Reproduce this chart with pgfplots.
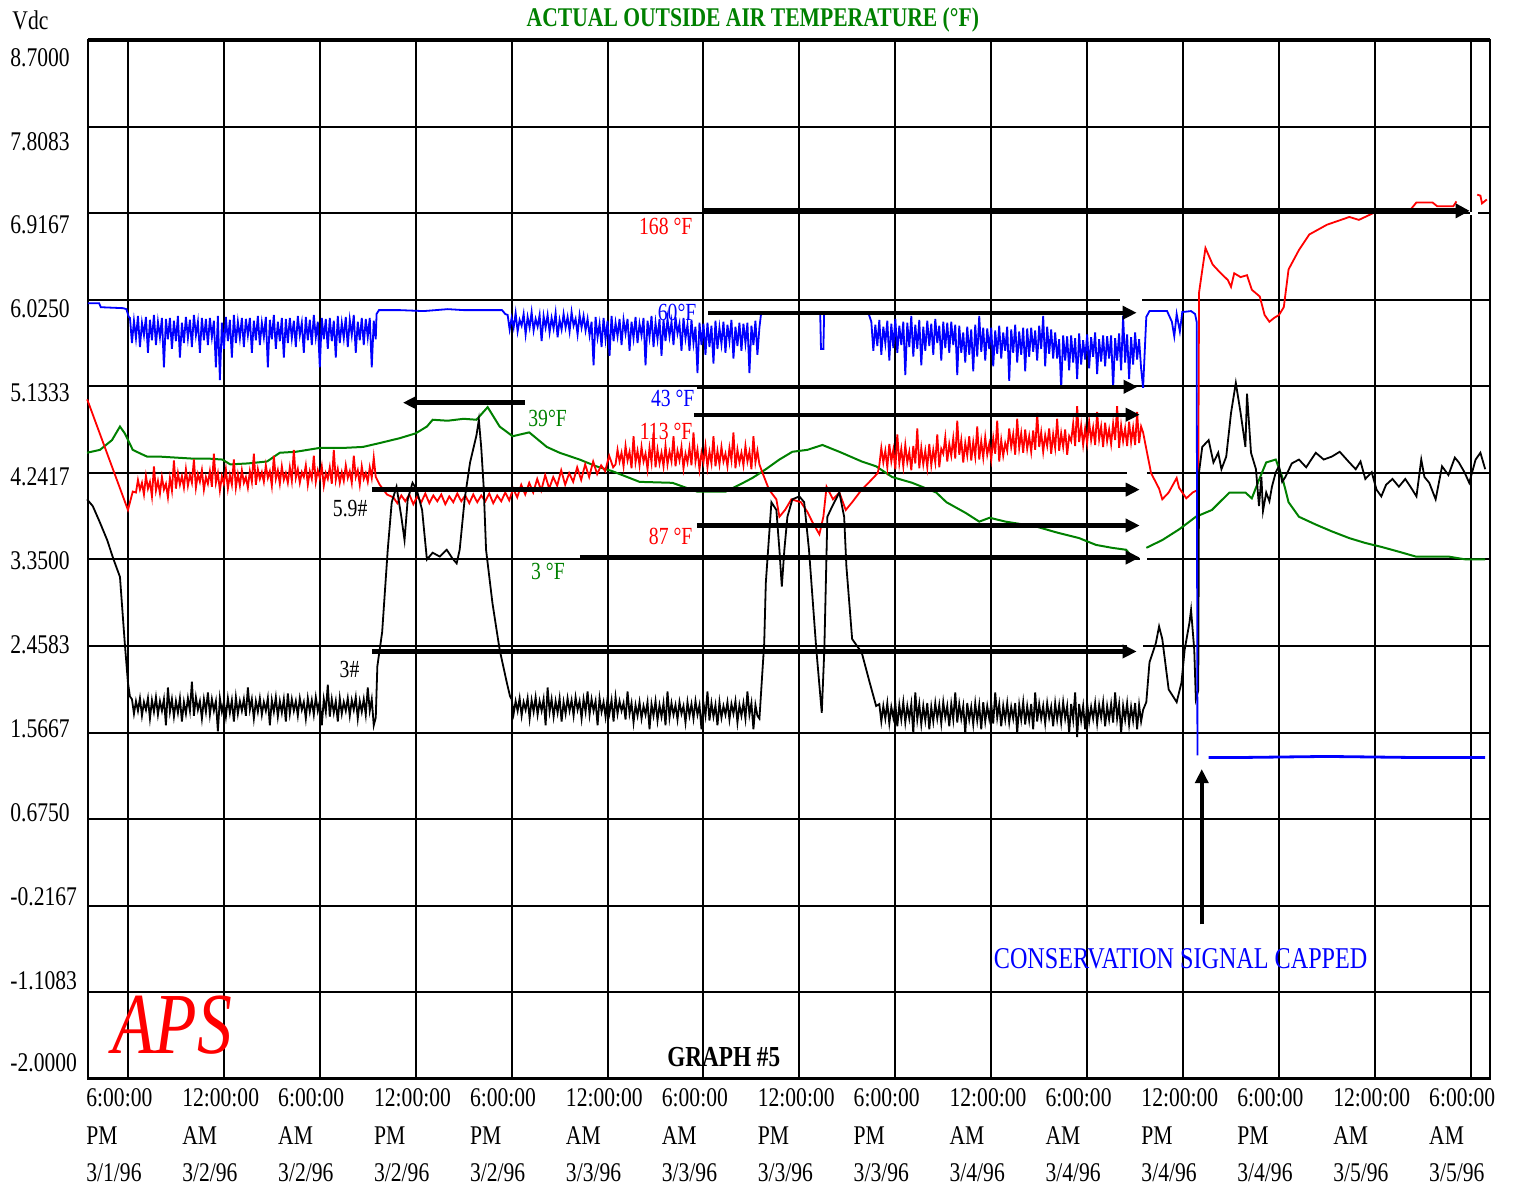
\documentclass[border=0pt]{standalone}
\usepackage{pgfplots}
\pgfplotsset{compat=1.18}
\usepackage{fontspec}
\setmainfont{Liberation Serif}[FakeStretch=0.8]
\usetikzlibrary{arrows.meta}
\definecolor{tgreen}{RGB}{0,128,0}
\definecolor{tblue}{RGB}{0,0,255}
\definecolor{tred}{RGB}{255,0,0}
\tikzset{arr/.style={line width=2.2pt,-{Triangle[length=7pt,width=6.5pt]}}}
\begin{document}
\begin{tikzpicture}
\begin{axis}[name=ax, scale only axis, width=701pt, height=519.1pt,
 xmin=-2.5, xmax=85.2, ymin=-2, ymax=8.7, clip=false, unbounded coords=jump,
 axis line style={line width=1.2pt}, major tick length=0pt,
 xtick={0,6,...,84}, xmajorgrids,
 xticklabels={{6:00:00\\PM\\3/1/96},{12:00:00\\AM\\3/2/96},{6:00:00\\AM\\3/2/96},{12:00:00\\PM\\3/2/96},{6:00:00\\PM\\3/2/96},{12:00:00\\AM\\3/3/96},{6:00:00\\AM\\3/3/96},{12:00:00\\PM\\3/3/96},{6:00:00\\PM\\3/3/96},{12:00:00\\AM\\3/4/96},{6:00:00\\AM\\3/4/96},{12:00:00\\PM\\3/4/96},{6:00:00\\PM\\3/4/96},{12:00:00\\AM\\3/5/96},{6:00:00\\AM\\3/5/96}},
 ytick={8.520,7.660,6.795,5.930,5.065,4.200,3.335,2.470,1.605,0.740,-0.125,-0.990,-1.835},
 yticklabels={8.7000,7.8083,6.9167,6.0250,5.1333,4.2417,3.3500,2.4583,1.5667,0.6750,-0.2167,-1.1083,-2.0000},
 extra y ticks={7.8083,6.9167,6.025,5.1333,4.2417,3.35,2.4583,1.5667,0.675,-0.2167,-1.1083},
 extra y tick labels={}, extra y tick style={grid=major},
 grid style={black, line width=1pt},
 yticklabel style={anchor=west, xshift=-39pt, inner sep=0pt, font=\fontsize{13.5}{16}\selectfont},
 xticklabel style={anchor=north west, align=left, xshift=-21pt, yshift=-5pt, inner sep=0pt, font=\fontsize{13.5}{18.75}\selectfont},
]
% gaps in grid lines
\draw[white, line width=1.8pt] (62.04,6.025)--(63.41,6.025);
\draw[white, line width=1.8pt] (62.48,4.2417)--(63.73,4.2417);
\draw[white, line width=1.8pt] (63.29,3.35)--(63.73,3.35);
\draw[white, line width=1.8pt] (62.48,2.4583)--(63.48,2.4583);
\draw[white, line width=1.8pt] (83.93,6.9167)--(84.43,6.9167);

% green: outside air temperature
\addplot[tgreen, line width=1pt] coordinates {
(-2.56,4.45)(-1.75,4.48)(-1.0,4.58)(-0.5,4.72)(-0.2,4.65)(0.3,4.48)(0.8,4.44)(1.2,4.41)(2,4.41)(3,4.40)(4,4.39)(5,4.39)(5.9,4.38)(6.4,4.33)(7.5,4.34)(8.7,4.36)(9.5,4.45)(10.5,4.46)(12,4.50)(13.5,4.50)(14.7,4.51)(15.75,4.55)(17,4.60)(18,4.65)(18.7,4.72)(19.06,4.79)(20,4.78)(21,4.80)(21.8,4.79)(22.5,4.92)(23.25,4.72)(24.06,4.62)(25.1,4.66)(26.2,4.51)(27,4.45)(28.25,4.38)(29.3,4.31)(30.3,4.26)(32,4.15)(34.06,4.14)(34.9,4.09)(35.6,4.05)(37.4,4.05)(38.25,4.12)(39.06,4.19)(39.9,4.28)(40.75,4.38)(41.56,4.46)(42.5,4.48)(43.44,4.53)(44.5,4.46)(45.9,4.36)(46.8,4.31)(47.8,4.20)(49.06,4.14)(50.56,4.04)(51.2,3.94)(52.4,3.83)(53.25,3.74)(53.9,3.78)(54.9,3.74)(56.8,3.69)(58.06,3.63)(59.5,3.57)(60.56,3.50)(61.56,3.47)(62.44,3.45)(62.8,3.38)(63.2,nan)
(63.7,3.47)(64.7,3.55)(65.75,3.66)(66.8,3.79)(67.8,3.86)(68.9,4.04)(69.9,4.04)(70.3,3.98)(70.75,4.17)(71.2,4.35)(71.8,4.38)(72.2,4.20)(72.6,3.94)(73.25,3.79)(74.3,3.71)(75.3,3.64)(76.4,3.57)(77.4,3.52)(78.4,3.48)(79.5,3.43)(80.56,3.38)(82.6,3.38)(83.7,3.35)(84.9,3.35)
};

% red
\addplot[tred, line width=0.9pt] coordinates {
(-2.55,5.00)(0.0,3.86)(0.3,4.05)
(0.5,4.04)(0.625,4.17)(0.75,4.07)(0.875,4.14)(1,4.02)(1.125,4.21)(1.25,4.08)(1.375,4.15)(1.5,4.00)(1.625,4.31)(1.75,4.06)(1.875,4.16)(2,4.03)(2.125,4.20)(2.25,4.07)(2.375,4.13)(2.5,3.99)(2.625,4.19)(2.75,4.06)(2.875,4.37)
(3,4.08)(3.125,4.24)(3.25,4.12)(3.375,4.21)(3.5,4.09)(3.625,4.28)(3.75,4.11)(3.875,4.22)(4,4.14)(4.125,4.38)(4.25,4.09)(4.375,4.23)(4.5,4.15)(4.625,4.27)(4.75,4.07)(4.875,4.20)(5,4.13)(5.125,4.26)(5.25,4.10)(5.375,4.44)(5.5,4.14)(5.625,4.24)(5.75,4.06)(5.875,4.21)(6,4.13)(6.125,4.28)(6.25,4.08)(6.375,4.22)(6.5,4.12)(6.625,4.38)(6.75,4.09)(6.875,4.23)(7,4.11)(7.125,4.27)(7.25,4.14)(7.375,4.20)(7.5,4.09)(7.625,4.26)(7.75,4.15)(7.875,4.44)
(8,4.12)(8.125,4.28)(8.25,4.18)(8.375,4.25)(8.5,4.15)(8.625,4.32)(8.75,4.19)(8.875,4.26)(9,4.11)(9.125,4.42)(9.25,4.18)(9.375,4.27)(9.5,4.13)(9.625,4.31)(9.75,4.17)(9.875,4.24)(10,4.14)(10.125,4.30)(10.25,4.16)(10.375,4.48)(10.5,4.19)(10.625,4.28)(10.75,4.14)(10.875,4.25)(11,4.20)(11.125,4.32)(11.25,4.12)(11.375,4.26)(11.5,4.18)(11.625,4.42)(11.75,4.15)(11.875,4.27)(12,4.19)(12.125,4.31)(12.25,4.11)(12.375,4.24)(12.5,4.18)(12.625,4.30)(12.75,4.13)(12.875,4.48)(13,4.17)(13.125,4.28)(13.25,4.14)(13.375,4.25)(13.5,4.16)(13.625,4.32)(13.75,4.19)(13.875,4.26)(14,4.14)(14.125,4.42)(14.25,4.20)(14.375,4.27)(14.5,4.12)(14.625,4.31)(14.75,4.18)(14.875,4.24)(15,4.15)(15.125,4.30)(15.25,4.19)(15.375,4.40)(15.5,4.20)
(15.75,4.12)(16.2,4.02)(16.6,3.99)(16.85,3.93)(17.1,4.01)(17.35,3.95)(17.6,4.02)(17.85,3.92)(18.1,4.00)(18.35,3.94)(18.6,4.03)(18.85,3.93)(19.1,4.01)(19.35,3.95)(19.6,4.02)(19.85,3.92)(20.1,4.00)(20.35,3.94)(20.6,4.03)(20.85,3.95)(21.1,4.01)(21.35,3.93)(21.6,4.02)(21.85,3.94)(22.1,4.01)(22.35,3.95)(22.6,4.03)(22.85,3.93)(23.1,4.01)(23.35,3.95)(23.6,4.04)(23.85,3.96)
(24.1,4.08)(24.35,3.99)(24.6,4.12)(24.85,4.02)(25.1,4.14)(25.35,4.04)(25.6,4.18)(25.85,4.06)(26.1,4.22)(26.35,4.08)(26.6,4.20)(26.85,4.11)(27.1,4.27)(27.35,4.12)(27.6,4.24)(27.85,4.15)(28.1,4.30)(28.35,4.17)(28.6,4.33)(28.85,4.20)(29.1,4.36)(29.35,4.23)(29.6,4.32)(29.85,4.26)(30.1,4.42)(30.35,4.30)
(30.5,4.33)(30.625,4.48)(30.75,4.36)(30.875,4.45)(31,4.31)(31.125,4.52)(31.25,4.37)(31.375,4.46)(31.5,4.29)(31.625,4.62)(31.75,4.35)(31.875,4.47)(32,4.32)(32.125,4.51)(32.25,4.36)(32.375,4.44)(32.5,4.28)(32.625,4.50)(32.75,4.35)(32.875,4.66)(33,4.30)(33.125,4.48)(33.25,4.34)(33.375,4.45)(33.5,4.31)(33.625,4.52)(33.75,4.33)(33.875,4.46)(34,4.36)(34.125,4.62)(34.25,4.31)(34.375,4.47)(34.5,4.37)(34.625,4.51)(34.75,4.29)(34.875,4.44)(35,4.35)(35.125,4.50)(35.25,4.32)(35.375,4.66)(35.5,4.36)(35.625,4.48)(35.75,4.28)(35.875,4.45)(36,4.35)(36.125,4.52)(36.25,4.30)(36.375,4.46)(36.5,4.34)(36.625,4.62)(36.75,4.31)(36.875,4.47)(37,4.33)(37.125,4.51)(37.25,4.36)(37.375,4.44)(37.5,4.31)(37.625,4.50)(37.75,4.37)(37.875,4.66)(38,4.29)(38.125,4.48)(38.25,4.35)(38.375,4.45)(38.5,4.32)(38.625,4.52)(38.75,4.36)(38.875,4.46)(39,4.28)(39.125,4.62)(39.25,4.35)(39.375,4.47)(39.5,4.33)(39.7,4.24)
(40.1,4.07)(40.56,3.97)(40.75,3.79)(41.1,3.86)(41.5,3.97)(42.1,3.94)(42.5,3.84)(42.8,3.74)(43.25,3.61)(43.5,3.79)(43.7,4.10)(44.1,3.97)(44.5,4.04)(44.9,3.86)(45.3,3.94)(45.9,4.07)(46.5,4.17)(46.9,4.24)
(47,4.32)(47.125,4.50)(47.25,4.35)(47.375,4.47)(47.5,4.30)(47.625,4.54)(47.75,4.36)(47.875,4.48)(48,4.28)(48.125,4.64)(48.25,4.34)(48.375,4.49)(48.5,4.31)(48.625,4.53)(48.75,4.35)(48.875,4.46)(49,4.27)(49.125,4.52)(49.25,4.34)(49.375,4.70)(49.5,4.29)(49.625,4.50)(49.75,4.33)(49.875,4.47)(50,4.30)(50.125,4.54)(50.25,4.32)(50.375,4.48)(50.5,4.35)(50.625,4.64)(50.75,4.30)(50.875,4.49)
(51,4.44)(51.125,4.61)(51.25,4.36)(51.375,4.54)(51.5,4.42)(51.625,4.60)(51.75,4.39)(51.875,4.78)(52,4.43)(52.125,4.58)(52.25,4.35)(52.375,4.55)(52.5,4.42)(52.625,4.62)(52.75,4.37)(52.875,4.56)(53,4.41)(53.125,4.72)(53.25,4.38)(53.375,4.57)(53.5,4.40)(53.625,4.61)(53.75,4.43)(53.875,4.54)(54,4.38)(54.125,4.60)(54.25,4.44)(54.375,4.78)(54.5,4.36)(54.625,4.58)(54.75,4.42)(54.875,4.55)
(55,4.47)(55.125,4.70)(55.25,4.51)(55.375,4.64)(55.5,4.43)(55.625,4.80)(55.75,4.50)(55.875,4.65)(56,4.45)(56.125,4.69)(56.25,4.49)(56.375,4.62)(56.5,4.46)(56.625,4.68)(56.75,4.48)(56.875,4.86)(57,4.51)(57.125,4.66)(57.25,4.46)(57.375,4.63)(57.5,4.52)(57.625,4.70)(57.75,4.44)(57.875,4.64)(58,4.50)(58.125,4.80)(58.25,4.47)(58.375,4.65)(58.5,4.51)(58.625,4.69)(58.75,4.43)(58.875,4.62)
(59,4.57)(59.125,4.75)(59.25,4.52)(59.375,4.93)(59.5,4.56)(59.625,4.73)(59.75,4.53)(59.875,4.70)(60,4.55)(60.125,4.77)(60.25,4.58)(60.375,4.71)(60.5,4.53)(60.625,4.87)(60.75,4.59)(60.875,4.72)(61,4.51)(61.125,4.76)(61.25,4.57)(61.375,4.69)(61.5,4.54)(61.625,4.75)(61.75,4.58)(61.875,4.93)(62,4.50)(62.125,4.73)(62.25,4.57)(62.375,4.70)(62.5,4.52)(62.625,4.77)(62.75,4.56)(62.875,4.71)(63,4.53)(63.125,4.87)(63.25,4.55)(63.375,4.72)(63.5,4.66)
(63.7,4.49)(64.0,4.24)(64.5,4.08)(64.7,3.97)(65.1,4.04)(65.6,4.19)(65.75,4.09)(66.2,3.98)(66.6,4.04)(66.95,4.07)(67.0,6.10)(67.4,6.56)(67.85,6.39)(68.3,6.31)(68.8,6.23)(69.0,6.16)(69.2,6.30)(69.6,6.26)(70.0,6.28)(70.3,6.13)(70.8,6.06)(71.1,5.87)(71.4,5.80)(71.7,5.84)(72.0,5.87)(72.3,5.95)(72.6,6.34)(73.25,6.54)(73.9,6.70)(75.0,6.80)(76.4,6.88)(77.0,6.85)(77.9,6.92)(79.6,6.92)(80.2,6.95)(80.6,7.03)(81.6,7.03)(81.9,6.99)(82.9,6.99)(83.1,7.04)(83.8,nan)(84.4,7.11)(84.6,7.10)(84.7,7.02)(85.0,7.06)
};

% black
\addplot[black, line width=0.9pt] coordinates {
(-2.56,3.97)(-2.2,3.90)(-1.75,3.73)(-1.3,3.55)(-0.9,3.35)(-0.5,3.17)(-0.2,2.49)(0.0,2.08)(0.12,1.94)
(0.25,1.91)(0.375,1.76)(0.5,1.89)(0.625,1.79)(0.75,1.92)(0.875,1.74)(1,1.88)(1.125,1.80)(1.25,1.92)(1.375,1.71)(1.5,1.90)(1.625,1.78)(1.75,1.93)(1.875,1.75)(2,1.89)(2.125,1.79)(2.25,1.91)(2.375,1.64)(2.5,2.03)(2.625,1.78)(2.75,1.91)(2.875,1.73)(3,1.89)(3.125,1.77)(3.25,1.92)(3.375,1.68)(3.5,1.88)(3.625,1.76)(3.75,1.92)(3.875,1.79)(4,2.09)(4.125,1.74)(4.25,1.93)(4.375,1.80)(4.5,1.89)(4.625,1.71)(4.75,1.91)(4.875,1.78)(5,1.98)(5.125,1.75)(5.25,1.91)(5.375,1.79)(5.5,1.89)(5.625,1.58)(5.75,1.92)(5.875,1.78)(6,1.88)(6.125,1.73)(6.25,1.92)(6.375,1.77)(6.5,1.90)(6.625,1.68)(6.75,1.93)(6.875,1.76)(7,1.89)(7.125,1.79)(7.25,1.91)(7.375,1.74)(7.5,2.03)(7.625,1.80)(7.75,1.91)(7.875,1.71)
(8,1.89)(8.125,1.78)(8.25,1.92)(8.375,1.75)(8.5,1.88)(8.625,1.79)(8.75,1.92)(8.875,1.64)(9,1.90)(9.125,1.78)(9.25,1.93)(9.375,1.73)(9.5,1.89)(9.625,1.77)(9.75,1.91)(9.875,1.68)(10,1.97)(10.125,1.76)(10.25,1.91)(10.375,1.79)(10.5,1.89)(10.625,1.74)(10.75,1.92)(10.875,1.80)(11,1.88)(11.125,1.71)(11.25,1.92)(11.375,1.78)(11.5,1.90)(11.625,1.75)(11.75,1.93)(11.875,1.79)(12,1.89)(12.125,1.64)(12.25,1.91)(12.375,1.78)(12.5,2.06)(12.625,1.73)(12.75,1.91)(12.875,1.77)(13,1.89)(13.125,1.68)(13.25,1.92)(13.375,1.76)(13.5,1.88)(13.625,1.79)(13.75,1.92)(13.875,1.74)(14,1.90)(14.125,1.80)(14.25,1.93)(14.375,1.71)(14.5,1.89)(14.625,1.78)(14.75,1.91)(14.875,1.75)(15,2.03)(15.125,1.79)(15.25,1.91)(15.375,1.64)(15.5,1.72)
(15.6,2.25)(15.9,2.60)(16.25,3.45)(16.5,3.94)(16.8,4.10)(17.1,3.79)(17.3,3.55)(17.5,3.97)(17.8,4.14)(18.06,4.07)(18.4,3.86)(18.7,3.35)(19.06,3.42)(19.5,3.38)(19.94,3.45)(20.3,3.36)(20.56,3.31)(20.75,3.45)(21.06,3.97)(21.4,4.35)(21.8,4.63)(21.95,4.79)(22.1,4.50)(22.25,4.10)(22.4,3.45)(22.8,2.90)(23.25,2.42)(23.7,2.08)(23.9,1.94)
(24,1.91)(24.125,1.76)(24.25,1.89)(24.375,1.79)(24.5,1.92)(24.625,1.74)(24.75,1.88)(24.875,1.80)(25,1.92)(25.125,1.71)(25.25,1.90)(25.375,1.78)(25.5,1.93)(25.625,1.75)(25.75,1.89)(25.875,1.79)(26,1.91)(26.125,1.64)(26.25,2.03)(26.375,1.78)(26.5,1.91)(26.625,1.73)(26.75,1.89)(26.875,1.77)(27,1.92)(27.125,1.68)(27.25,1.88)(27.375,1.76)(27.5,1.92)(27.625,1.79)(27.75,1.90)(27.875,1.74)(28,1.93)(28.125,1.80)(28.25,1.89)(28.375,1.71)(28.5,1.91)(28.625,1.78)(28.75,1.99)(28.875,1.75)(29,1.91)(29.125,1.79)(29.25,1.89)(29.375,1.64)(29.5,1.92)(29.625,1.78)(29.75,1.88)(29.875,1.73)(30,1.92)(30.125,1.77)(30.25,1.90)(30.375,1.68)(30.5,1.93)(30.625,1.76)(30.75,1.89)(30.875,1.79)
(31,1.87)(31.125,1.70)(31.25,1.99)(31.375,1.76)(31.5,1.87)(31.625,1.67)(31.75,1.85)(31.875,1.74)(32,1.88)(32.125,1.71)(32.25,1.84)(32.375,1.75)(32.5,1.88)(32.625,1.60)(32.75,1.86)(32.875,1.74)(33,1.89)(33.125,1.69)(33.25,1.85)(33.375,1.73)(33.5,1.87)(33.625,1.64)(33.75,1.99)(33.875,1.72)(34,1.87)(34.125,1.75)(34.25,1.85)(34.375,1.70)(34.5,1.88)(34.625,1.76)(34.75,1.84)(34.875,1.67)(35,1.88)(35.125,1.74)(35.25,1.86)(35.375,1.71)(35.5,1.89)(35.625,1.75)(35.75,1.85)(35.875,1.60)(36,1.87)(36.125,1.74)(36.25,1.99)(36.375,1.69)(36.5,1.87)(36.625,1.73)(36.75,1.85)(36.875,1.64)(37,1.88)(37.125,1.72)(37.25,1.84)(37.375,1.75)(37.5,1.88)(37.625,1.70)(37.75,1.86)(37.875,1.76)(38,1.89)(38.125,1.67)(38.25,1.85)(38.375,1.74)(38.5,1.87)(38.625,1.71)(38.75,1.99)(38.875,1.75)(39,1.87)(39.125,1.60)(39.25,1.85)(39.375,1.74)(39.5,1.71)
(39.8,2.49)(39.9,3.11)(40.25,3.94)(40.56,3.86)(40.75,3.45)(40.9,3.07)(41.06,3.45)(41.25,3.79)(41.56,3.97)(42.0,4.00)(42.3,3.94)(42.6,3.45)(43.06,2.42)(43.4,1.77)(43.56,2.42)(43.75,3.79)(44.06,3.90)(44.5,4.04)(44.8,3.79)(44.94,3.28)(45.3,2.53)(45.9,2.39)(46.4,2.08)(46.8,1.84)
(47,1.86)(47.125,1.68)(47.25,1.84)(47.375,1.71)(47.5,1.87)(47.625,1.66)(47.75,1.83)(47.875,1.72)(48,1.87)(48.125,1.63)(48.25,1.85)(48.375,1.70)(48.5,1.88)(48.625,1.67)(48.75,1.84)(48.875,1.71)(49,1.86)(49.125,1.56)(49.25,1.98)(49.375,1.70)(49.5,1.86)(49.625,1.65)(49.75,1.84)(49.875,1.69)(50,1.87)(50.125,1.60)(50.25,1.83)(50.375,1.68)(50.5,1.87)(50.625,1.71)(50.75,1.85)(50.875,1.66)(51,1.88)(51.125,1.72)(51.25,1.84)(51.375,1.63)(51.5,1.86)(51.625,1.70)(51.75,1.98)(51.875,1.67)(52,1.86)(52.125,1.71)(52.25,1.84)(52.375,1.56)(52.5,1.87)(52.625,1.70)(52.75,1.83)(52.875,1.65)(53,1.87)(53.125,1.69)(53.25,1.85)(53.375,1.60)(53.5,1.88)(53.625,1.68)(53.75,1.84)(53.875,1.71)(54,1.86)(54.125,1.66)(54.25,1.98)(54.375,1.72)(54.5,1.86)(54.625,1.63)(54.75,1.84)(54.875,1.70)
(55,1.87)(55.125,1.67)(55.25,1.83)(55.375,1.71)(55.5,1.87)(55.625,1.56)(55.75,1.85)(55.875,1.70)(56,1.88)(56.125,1.65)(56.25,1.84)(56.375,1.69)(56.5,1.86)(56.625,1.60)(56.75,1.98)(56.875,1.68)(57,1.86)(57.125,1.71)(57.25,1.84)(57.375,1.66)(57.5,1.87)(57.625,1.72)(57.75,1.83)(57.875,1.63)(58,1.87)(58.125,1.70)(58.25,1.85)(58.375,1.67)(58.5,1.88)(58.625,1.71)(58.75,1.84)(58.875,1.56)(59,1.86)(59.125,1.70)(59.25,1.98)(59.375,1.52)(59.5,1.86)(59.625,1.69)(59.75,1.84)(59.875,1.60)(60,1.87)(60.125,1.68)(60.25,1.83)(60.375,1.71)(60.5,1.87)(60.625,1.66)(60.75,1.85)(60.875,1.72)(61,1.88)(61.125,1.63)(61.25,1.84)(61.375,1.70)(61.5,1.86)(61.625,1.67)(61.75,1.98)(61.875,1.71)(62,1.86)(62.125,1.56)(62.25,1.84)(62.375,1.70)(62.5,1.87)(62.625,1.65)(62.75,1.83)(62.875,1.69)(63,1.87)(63.125,1.60)(63.25,1.85)(63.375,1.68)(63.5,1.80)
(63.7,1.88)(63.9,2.29)(64.3,2.49)(64.5,2.66)(64.7,2.53)(65.1,2.01)(65.6,1.88)(65.9,2.08)(66.1,2.42)(66.4,2.70)(66.5,2.83)(66.7,2.42)(66.8,1.91)(66.95,2.00)(67.0,4.25)(67.2,4.51)(67.6,4.58)(67.9,4.35)(68.2,4.45)(68.4,4.28)(68.7,4.41)(69.0,4.86)(69.3,5.17)(69.6,4.86)(69.9,4.51)(70.0,5.06)(70.25,4.45)(70.56,4.28)(70.75,3.90)(70.9,4.20)(71.0,3.85)(71.2,4.04)(71.4,3.95)(71.56,4.10)(71.8,4.25)(72.0,4.31)(72.2,4.15)(72.4,4.20)(72.8,4.34)(73.25,4.38)(73.7,4.30)(74.3,4.45)(74.8,4.38)(75.3,4.41)(75.8,4.46)(76.4,4.35)(76.8,4.28)(77.1,4.36)(77.4,4.18)(77.8,4.25)(78.1,4.07)(78.4,4.00)(78.7,4.12)(79.1,4.18)(79.5,4.10)(79.9,4.18)(80.3,4.08)(80.6,4.00)(80.9,4.38)(81.1,4.20)(81.4,4.14)(81.8,3.97)(82.2,4.31)(82.6,4.22)(83.0,4.40)(83.25,4.35)(83.6,4.25)(83.9,4.14)(84.3,4.38)(84.6,4.45)(84.9,4.28)
};

% blue
\addplot[tblue, line width=0.9pt] coordinates {
(-2.5,5.99)(-1.8,5.99)(-1.7,5.95)(-0.3,5.94)(-0.1,5.93)(0.05,5.85)
(0.125,5.84)(0.25,5.58)(0.375,5.81)(0.5,5.63)(0.625,5.86)(0.75,5.54)(0.875,5.79)(1,5.66)(1.125,5.85)(1.25,5.48)(1.375,5.82)(1.5,5.61)(1.625,5.87)(1.75,5.56)(1.875,5.80)(2,5.64)(2.125,5.84)(2.25,5.33)(2.375,5.83)(2.5,5.62)(2.625,5.84)(2.75,5.52)(2.875,5.81)(3,5.60)(3.125,5.86)(3.25,5.43)(3.375,5.79)(3.5,5.58)(3.625,5.85)(3.75,5.63)(3.875,5.82)(4,5.54)(4.125,5.87)(4.25,5.66)(4.375,5.80)(4.5,5.48)(4.625,5.84)(4.75,5.61)(4.875,5.83)(5,5.56)(5.125,5.84)(5.25,5.64)(5.375,5.81)(5.5,5.33)(5.625,5.86)(5.75,5.20)(5.875,5.79)(6,5.52)(6.125,5.85)(6.25,5.60)(6.375,5.82)(6.5,5.43)(6.625,5.87)(6.75,5.58)(6.875,5.80)(7,5.63)(7.125,5.84)(7.25,5.54)(7.375,5.83)(7.5,5.66)(7.625,5.84)(7.75,5.48)(7.875,5.81)
(8,5.61)(8.125,5.86)(8.25,5.56)(8.375,5.79)(8.5,5.64)(8.625,5.85)(8.75,5.33)(8.875,5.82)(9,5.62)(9.125,5.87)(9.25,5.52)(9.375,5.80)(9.5,5.60)(9.625,5.84)(9.75,5.43)(9.875,5.83)(10,5.58)(10.125,5.84)(10.25,5.63)(10.375,5.81)(10.5,5.54)(10.625,5.86)(10.75,5.66)(10.875,5.79)(11,5.48)(11.125,5.85)(11.25,5.61)(11.375,5.82)(11.5,5.56)(11.625,5.87)(11.75,5.64)(11.875,5.80)(12,5.33)(12.125,5.84)(12.25,5.62)(12.375,5.83)(12.5,5.52)(12.625,5.84)(12.75,5.60)(12.875,5.81)(13,5.43)(13.125,5.86)(13.25,5.58)(13.375,5.79)(13.5,5.63)(13.625,5.85)(13.75,5.54)(13.875,5.82)(14,5.66)(14.125,5.87)(14.25,5.48)(14.375,5.80)(14.5,5.61)(14.625,5.84)(14.75,5.56)(14.875,5.83)(15,5.64)(15.125,5.84)(15.25,5.33)(15.375,5.81)(15.5,5.62)
(15.55,5.88)(15.7,5.92)(17,5.92)(18.5,5.91)(20,5.93)(21,5.92)(22.5,5.92)(23.4,5.92)(23.6,5.88)
(23.75,5.87)(23.875,5.72)(24,5.84)(24.125,5.74)(24.25,5.89)(24.375,5.70)(24.5,5.82)(24.625,5.76)(24.75,5.88)(24.875,5.67)(25,5.85)(25.125,5.74)(25.25,5.90)(25.375,5.71)(25.5,5.83)(25.625,5.75)(25.75,5.87)(25.875,5.60)(26,5.86)(26.125,5.74)(26.25,5.87)(26.375,5.69)(26.5,5.84)(26.625,5.73)(26.75,5.89)(26.875,5.64)(27,5.82)(27.125,5.72)(27.25,5.88)(27.375,5.74)(27.5,5.85)(27.625,5.70)(27.75,5.90)(27.875,5.76)(28,5.83)(28.125,5.67)(28.25,5.87)(28.375,5.74)(28.5,5.86)(28.625,5.71)
(28.75,5.83)(28.875,5.66)(29,5.80)(29.125,5.35)(29.25,5.85)(29.375,5.64)(29.5,5.78)(29.625,5.54)(29.75,5.84)(29.875,5.62)(30,5.81)(30.125,5.45)(30.25,5.86)(30.375,5.60)(30.5,5.79)(30.625,5.65)(30.75,5.83)(30.875,5.56)(31,5.82)(31.125,5.68)(31.25,5.83)(31.375,5.50)(31.5,5.80)(31.625,5.63)(31.75,5.85)(31.875,5.58)(32,5.78)(32.125,5.66)(32.25,5.84)(32.375,5.35)(32.5,5.81)(32.625,5.64)(32.75,5.86)(32.875,5.54)(33,5.79)(33.125,5.62)(33.25,5.83)(33.375,5.45)(33.5,5.82)(33.625,5.60)(33.75,5.83)(33.875,5.65)(34,5.80)(34.125,5.56)(34.25,5.85)(34.375,5.68)(34.5,5.78)(34.625,5.50)(34.75,5.84)(34.875,5.63)
(35,5.77)(35.125,5.50)(35.25,5.82)(35.375,5.58)(35.5,5.75)(35.625,5.27)(35.75,5.79)(35.875,5.56)(36,5.78)(36.125,5.46)(36.25,5.79)(36.375,5.54)(36.5,5.76)(36.625,5.37)(36.75,5.81)(36.875,5.52)(37,5.74)(37.125,5.57)(37.25,5.80)(37.375,5.48)(37.5,5.77)(37.625,5.60)(37.75,5.82)(37.875,5.42)(38,5.75)(38.125,5.55)(38.25,5.79)(38.375,5.50)(38.5,5.78)(38.625,5.58)(38.75,5.79)(38.875,5.27)(39,5.76)(39.125,5.56)(39.25,5.81)(39.375,5.46)(39.5,5.74)(39.6,5.88)
(40,5.90)(41.5,5.90)(43.3,5.90)(43.35,5.52)(43.5,5.52)(43.55,5.90)(45,5.90)(46.3,5.90)
(46.5,5.80)(46.625,5.50)(46.75,5.77)(46.875,5.55)(47,5.82)(47.125,5.46)(47.25,5.75)(47.375,5.58)(47.5,5.81)(47.625,5.40)(47.75,5.78)(47.875,5.53)(48,5.83)(48.125,5.48)(48.25,5.76)(48.375,5.56)(48.5,5.80)(48.625,5.25)(48.75,5.79)(48.875,5.54)(49,5.86)(49.125,5.44)(49.25,5.77)(49.375,5.52)(49.5,5.82)(49.625,5.35)(49.75,5.75)(49.875,5.50)(50,5.81)(50.125,5.55)(50.25,5.78)(50.375,5.46)(50.5,5.83)(50.625,5.58)(50.75,5.76)(50.875,5.40)(51,5.80)(51.125,5.53)(51.25,5.79)(51.375,5.48)(51.5,5.80)(51.625,5.56)(51.75,5.77)(51.875,5.25)
(52,5.76)(52.125,5.48)(52.25,5.69)(52.375,5.38)(52.5,5.75)(52.625,5.46)(52.75,5.72)(52.875,5.29)(53,5.77)(53.125,5.44)(53.25,5.86)(53.375,5.49)(53.5,5.74)(53.625,5.40)(53.75,5.73)(53.875,5.52)(54,5.74)(54.125,5.34)(54.25,5.71)(54.375,5.47)(54.5,5.76)(54.625,5.42)(54.75,5.69)(54.875,5.50)(55,5.75)(55.125,5.19)(55.25,5.72)(55.375,5.48)(55.5,5.77)(55.625,5.38)(55.75,5.70)(55.875,5.46)(56,5.74)(56.125,5.29)(56.25,5.73)(56.375,5.44)(56.5,5.74)(56.625,5.49)(56.75,5.71)(56.875,5.40)(57,5.76)(57.125,5.52)(57.25,5.86)(57.375,5.34)(57.5,5.75)(57.625,5.47)(57.75,5.72)(57.875,5.42)
(58,5.69)(58.125,5.42)(58.25,5.62)(58.375,5.11)(58.5,5.66)(58.625,5.40)(58.75,5.65)(58.875,5.30)(59,5.66)(59.125,5.38)(59.25,5.63)(59.375,5.21)(59.5,5.68)(59.625,5.36)(59.75,5.61)(59.875,5.41)(60,5.67)(60.125,5.32)(60.25,5.64)(60.375,5.44)(60.5,5.69)(60.625,5.26)(60.75,5.62)(60.875,5.39)(61,5.66)(61.125,5.34)(61.25,5.65)(61.375,5.42)(61.5,5.66)(61.625,5.11)(61.75,5.63)(61.875,5.40)(62,5.68)(62.125,5.30)(62.25,5.86)(62.375,5.38)(62.5,5.67)(62.625,5.21)(62.75,5.64)(62.875,5.36)(63,5.69)(63.125,5.41)(63.25,5.62)(63.375,5.32)(63.5,5.12)
(63.7,5.85)(63.9,5.91)(65,5.91)(65.3,5.80)(65.45,5.65)(65.6,5.88)(65.8,5.70)(65.95,5.90)(66.5,5.91)(66.75,5.88)(66.85,5.80)(66.9,1.33)
};
\addplot[tblue, line width=1.4pt] coordinates {(67.6,1.31)(70,1.31)(75,1.32)(80,1.31)(84.9,1.31)};

% arrows
\draw[line width=3pt,-{Triangle[length=7pt,width=7pt]}] (35.96,6.943)--(83.93,6.943);
\draw[arr] (36.27,5.893)--(63.10,5.893);
\draw[arr] (35.58,5.130)--(63.16,5.130);
\draw[arr] (35.40,4.842)--(63.29,4.842);
\draw[arr] (15.26,4.070)--(63.29,4.070);
\draw[arr] (35.58,3.700)--(63.29,3.700);
\draw[arr] (28.27,3.370)--(63.29,3.370);
\draw[arr] (15.26,2.402)--(63.10,2.402);
\draw[arr] (24.83,4.966)--(17.20,4.966);
\draw[arr] (67.17,-0.41)--(67.17,1.19);

% thick top border
\draw[line width=2pt] (-2.5,8.7)--(85.2,8.7);

% annotations
\begin{scope}[every node/.style={font=\fontsize{12.3}{14}\selectfont, inner sep=0pt}]
\node[anchor=east, text=tred] at (35.33,6.78) {168 °F};
\node[anchor=east, text=tblue] at (35.58,5.90) {60°F};
\node[anchor=east, text=tblue] at (35.46,5.01) {43 °F};
\node[anchor=east, text=tred] at (35.33,4.67) {113 °F};
\node[anchor=west, text=tgreen] at (25.02,4.80) {39°F};
\node[anchor=east, text=tred] at (35.33,3.59) {87 °F};
\node[anchor=west, text=tgreen] at (25.2,3.23) {3 °F};
\node[anchor=east] at (15.0,3.88) {5.9\#};
\node[anchor=east] at (14.5,2.22) {3\#};
\end{scope}
\node[anchor=west, inner sep=0pt, font=\fontsize{13.5}{16}\selectfont] at (-7.25,8.91) {Vdc};
\node[inner sep=0pt, text=tgreen, font=\fontsize{13.5}{16}\selectfont\bfseries] at (39.09,8.91) {ACTUAL OUTSIDE AIR TEMPERATURE (°F)};
\node[inner sep=0pt, font=\fontsize{14.5}{16}\selectfont\bfseries] at (37.27,-1.78) {GRAPH \#5};
\node[inner sep=0pt, text=tblue, font=\fontsize{15.1}{17}\selectfont] at (65.85,-0.76) {CONSERVATION SIGNAL CAPPED};
\node[inner sep=0pt, text=tred, font=\fontsize{43.5}{46}\selectfont\itshape] at (2.75,-1.45) {APS};
\end{axis}
\pgfresetboundingbox
\path[use as bounding box] ([shift={(-44pt,-55.7pt)}]ax.south west) rectangle ([shift={(13.5pt,20.2pt)}]ax.north east);
\end{tikzpicture}
\end{document}
